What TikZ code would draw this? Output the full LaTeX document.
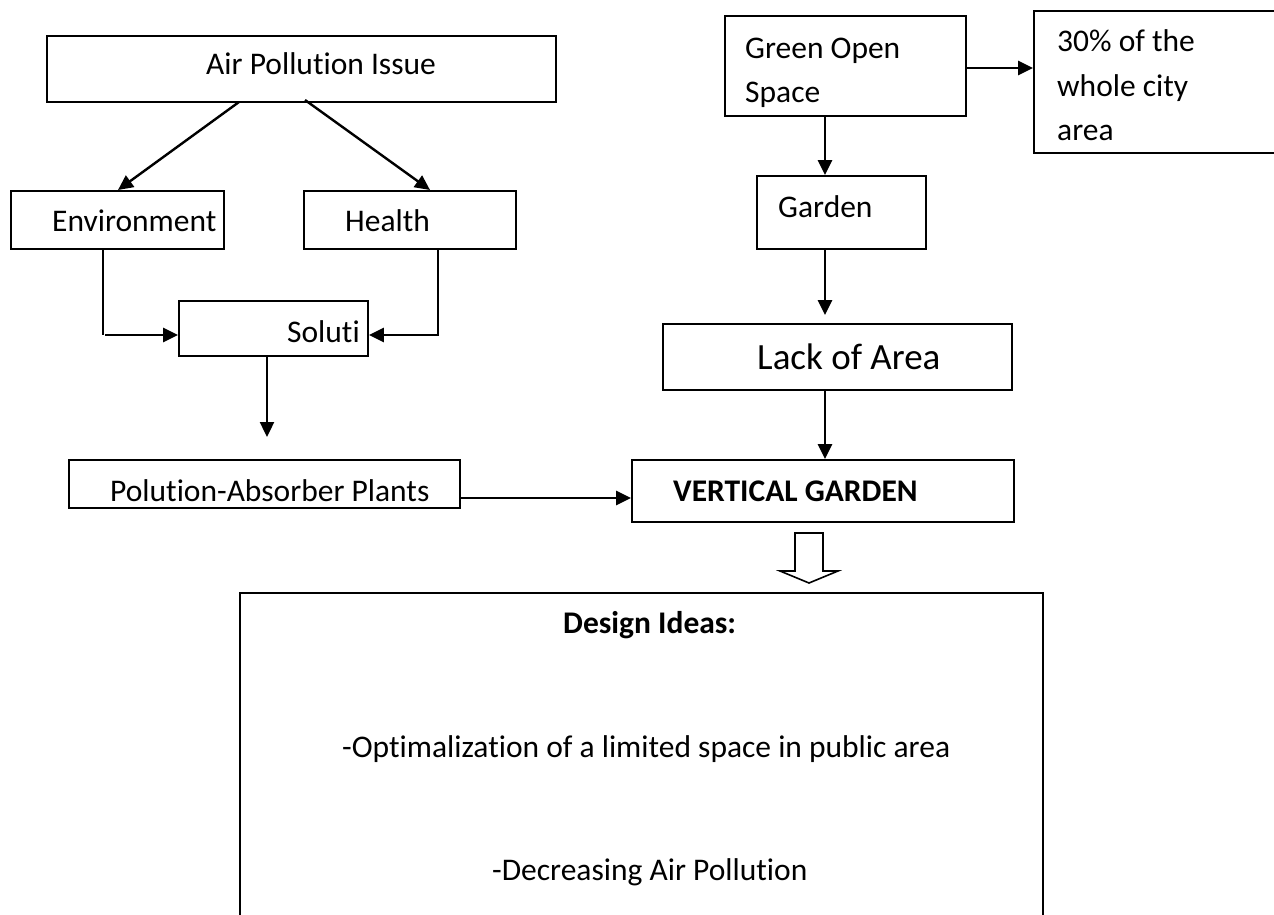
\documentclass[tikz,border=0pt]{standalone}
\usepackage{fontspec}
\setmainfont{Carlito}[Ligatures=NoCommon]
\usetikzlibrary{arrows.meta}
\begin{document}
\begin{tikzpicture}[x=1pt,y=-1pt,
  box/.style={draw, line width=1.8pt, rectangle, inner sep=0pt},
  lbl/.style={anchor=base west, inner sep=0pt, font=\fontsize{31.5}{38}\selectfont},
  conn/.style={line width=2.4pt, -{Triangle[length=15pt,width=14pt]}},
  plain/.style={line width=2.4pt}]
\useasboundingbox (0,0) rectangle (1274,915);
% boxes
\node[box, minimum width=509pt, minimum height=66pt] (air) at (301.5,69) {};
\node[box, minimum width=213pt, minimum height=58pt] (env) at (117.5,220) {};
\node[box, minimum width=212pt, minimum height=58pt] (hea) at (410,220) {};
\node[box, minimum width=189pt, minimum height=55pt] (sol) at (273.5,328.5) {};
\node[box, minimum width=391pt, minimum height=48pt] (pol) at (264.5,484) {};
\node[box, minimum width=382pt, minimum height=62pt] (vg) at (823,491) {};
\node[box, minimum width=241pt, minimum height=100pt] (gos) at (845.5,66) {};
\node[box, minimum width=256pt, minimum height=142pt] (pct) at (1162,82) {};
\node[box, minimum width=169pt, minimum height=73pt] (gar) at (841.5,212.5) {};
\node[box, minimum width=349pt, minimum height=66pt] (lack) at (837.5,357) {};
\node[box, minimum width=803pt, minimum height=350pt] (des) at (641.5,768) {};
% texts
\node[lbl] (airt) at (206,75) {Air Pollution Issue};
\node[lbl] (envt) at (52,231) {Environment};
\node[lbl] (heat) at (345,231) {Health};
\node[lbl, anchor=base east] (solt) at (360,342) {Soluti};
\node[lbl] (polt) at (110,501) {Polution-Absorber Plants};
\node[lbl, font=\fontsize{31.5}{38}\selectfont\bfseries] (vgt) at (673,501) {VERTICAL GARDEN};
\node[lbl] (gost1) at (745,59) {Green Open};
\node[lbl] (gost2) at (745,103) {Space};
\node[lbl] (pctt1) at (1057,52) {30\% of the};
\node[lbl] (pctt2) at (1057,97) {whole city};
\node[lbl] (pctt3) at (1057,140) {area};
\node[lbl] (gart) at (778,217) {Garden};
\node[lbl, font=\fontsize{37}{44}\selectfont] (lackt) at (757,369) {Lack of Area};
\node[lbl, font=\fontsize{31.5}{38}\selectfont\bfseries] (dest) at (563,633) {Design Ideas:};
\node[lbl] (des1) at (342,757) {-Optimalization of a limited space in public area};
\node[lbl] (des2) at (492,880) {-Decreasing Air Pollution};
% connectors
\coordinate (a1) at (239,102);
\coordinate (a2) at (305,100);
\draw[conn] (a1) -- (118,190);
\draw[conn] (a2) -- (430,190);
\draw[plain] (env.south -| 103,0) -- (103,335);
\draw[conn] (105,335) -- (sol.west |- 0,335);
\draw[conn] (hea.south -| 438,0) |- (sol.east |- 0,335);
\draw[conn] (sol.south -| 267,0) -- (267,437);
\draw[conn] (pol.east |- 0,498) -- (vg.west |- 0,498);
\draw[conn] (gos.east |- 0,68) -- (pct.west |- 0,68);
\draw[conn] (gos.south -| 825,0) -- (gar.north -| 825,0);
\draw[conn, shorten >=8pt] (gar.south -| 825,0) -- (lack.north -| 825,0);
\draw[conn] (lack.south -| 825,0) -- (vg.north -| 825,0);
% hollow arrow
\draw[line width=1.6pt, line join=miter] (795,533) -- (823,533) -- (823,571) -- (838,571) -- (809,583) -- (780,571) -- (795,571) -- cycle;
\end{tikzpicture}
\end{document}
